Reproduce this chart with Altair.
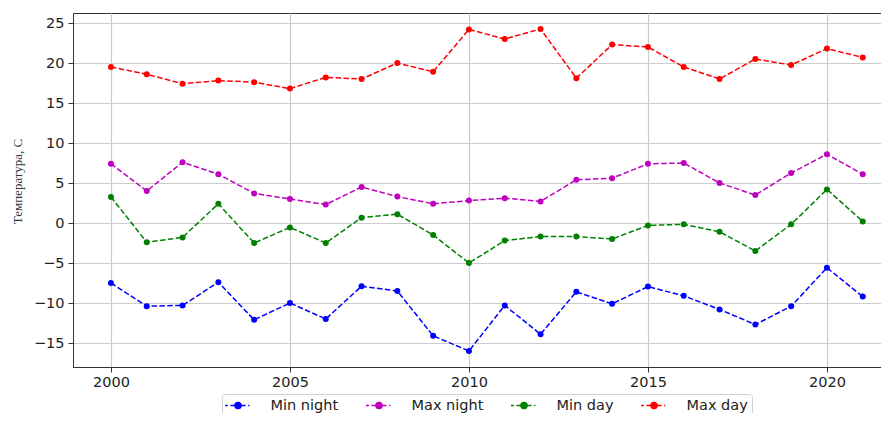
import altair as alt
import pandas as pd

years = list(range(2000, 2022))
series_names = ["Min night", "Max night", "Min day", "Max day"]
series_colors = ["#0000ff", "#bf00bf", "#008000", "#ff0000"]

min_night = [-7.5, -10.4, -10.3, -7.4, -12.1, -10.0, -12.0, -7.9, -8.5, -14.1, -16.0,
             -10.3, -13.9, -8.6, -10.1, -7.95, -9.1, -10.8, -12.7, -10.4, -5.6, -9.2]
max_night = [7.4, 4.0, 7.6, 6.1, 3.7, 3.0, 2.3, 4.5, 3.3, 2.4, 2.8,
             3.1, 2.7, 5.4, 5.6, 7.4, 7.5, 5.0, 3.5, 6.25, 8.6, 6.1]
min_day = [3.25, -2.4, -1.8, 2.4, -2.5, -0.55, -2.5, 0.67, 1.1, -1.5, -5.0,
           -2.2, -1.7, -1.7, -2.0, -0.3, -0.17, -1.1, -3.5, -0.17, 4.2, 0.2]
max_day = [19.5, 18.6, 17.4, 17.8, 17.6, 16.8, 18.2, 18.0, 20.0, 18.9, 24.2,
           23.0, 24.25, 18.1, 22.3, 22.0, 19.5, 18.0, 20.5, 19.75, 21.8, 20.7]

x_ticks = [2000, 2005, 2010, 2015, 2020]
y_ticks = [-15, -10, -5, 0, 5, 10, 15, 20, 25]

rows = []
for name, vals in zip(series_names, [min_night, max_night, min_day, max_day]):
    for yr, v in zip(years, vals):
        rows.append({"year": yr, "value": v, "series": name})
df = pd.DataFrame(rows)

color_scale = alt.Scale(domain=series_names, range=series_colors)
x_enc = alt.X("year:Q",
              scale=alt.Scale(domain=[1998.94, 2021.51], nice=False, zero=False),
              axis=alt.Axis(values=x_ticks, format="d", title=None))
y_enc = alt.Y("value:Q",
              scale=alt.Scale(domain=[-18, 26.25], nice=False, zero=False),
              axis=alt.Axis(values=y_ticks, title="Температура, С",
                            titleFont="Liberation Serif", titleFontSize=13,
                            titleFontWeight="normal", titleColor="#333333",
                            titleAngle=270, titleX=-56, titleY=168,
                            titleAlign="center", titleBaseline="middle"))

legend_path = ("M-2,0H-1.56M-1.16,0H-0.56M0.56,0H1.16M1.56,0H1.76"
               "M-0.48,0a0.48,0.48 0 1,0 0.96,0a0.48,0.48 0 1,0 -0.96,0Z")

leg = alt.Legend(
    title=None, orient="none", legendX=149, legendY=381,
    direction="horizontal", columns=4,
    symbolType=legend_path, symbolSize=169, symbolOffset=4.5,
    symbolStrokeWidth=1.5, symbolOpacity=1, symbolDash=[1, 0],
    labelFont="DejaVu Sans", labelFontSize=14.5,
    labelColor="#222222", labelOffset=25,
    columnPadding=24, padding=4,
    strokeColor="#d0d0d0", cornerRadius=3,
    fillColor="white",
)

color_enc = alt.Color("series:N", scale=color_scale, sort=series_names, legend=leg)

lines = alt.Chart(df).mark_line(strokeWidth=1.5, strokeDash=[5.5, 2.4], clip=True).encode(
    x=x_enc, y=y_enc, color=color_enc,
)

points = alt.Chart(df).mark_point(filled=True, size=36, opacity=1, clip=True).encode(
    x=x_enc, y=y_enc, color=color_enc,
)

chart = alt.layer(lines, points).properties(
    width=808, height=354,
    autosize=alt.AutoSizeParams(type="none"),
    padding={"left": 65, "top": 5, "right": 0, "bottom": 46},
).configure_view(
    stroke="#333333", strokeWidth=1,
).configure_axis(
    grid=True, gridColor="#cccccc", gridWidth=1.2,
    domainColor="#333333", domainWidth=1,
    tickColor="#333333", tickSize=5,
    labelFont="DejaVu Sans", labelFontSize=14.5, labelColor="#222222",
    labelPadding=3,
).configure_axisY(labelPadding=4)

chart.save("out.html", embed_options={"renderer": "svg", "actions": False})
